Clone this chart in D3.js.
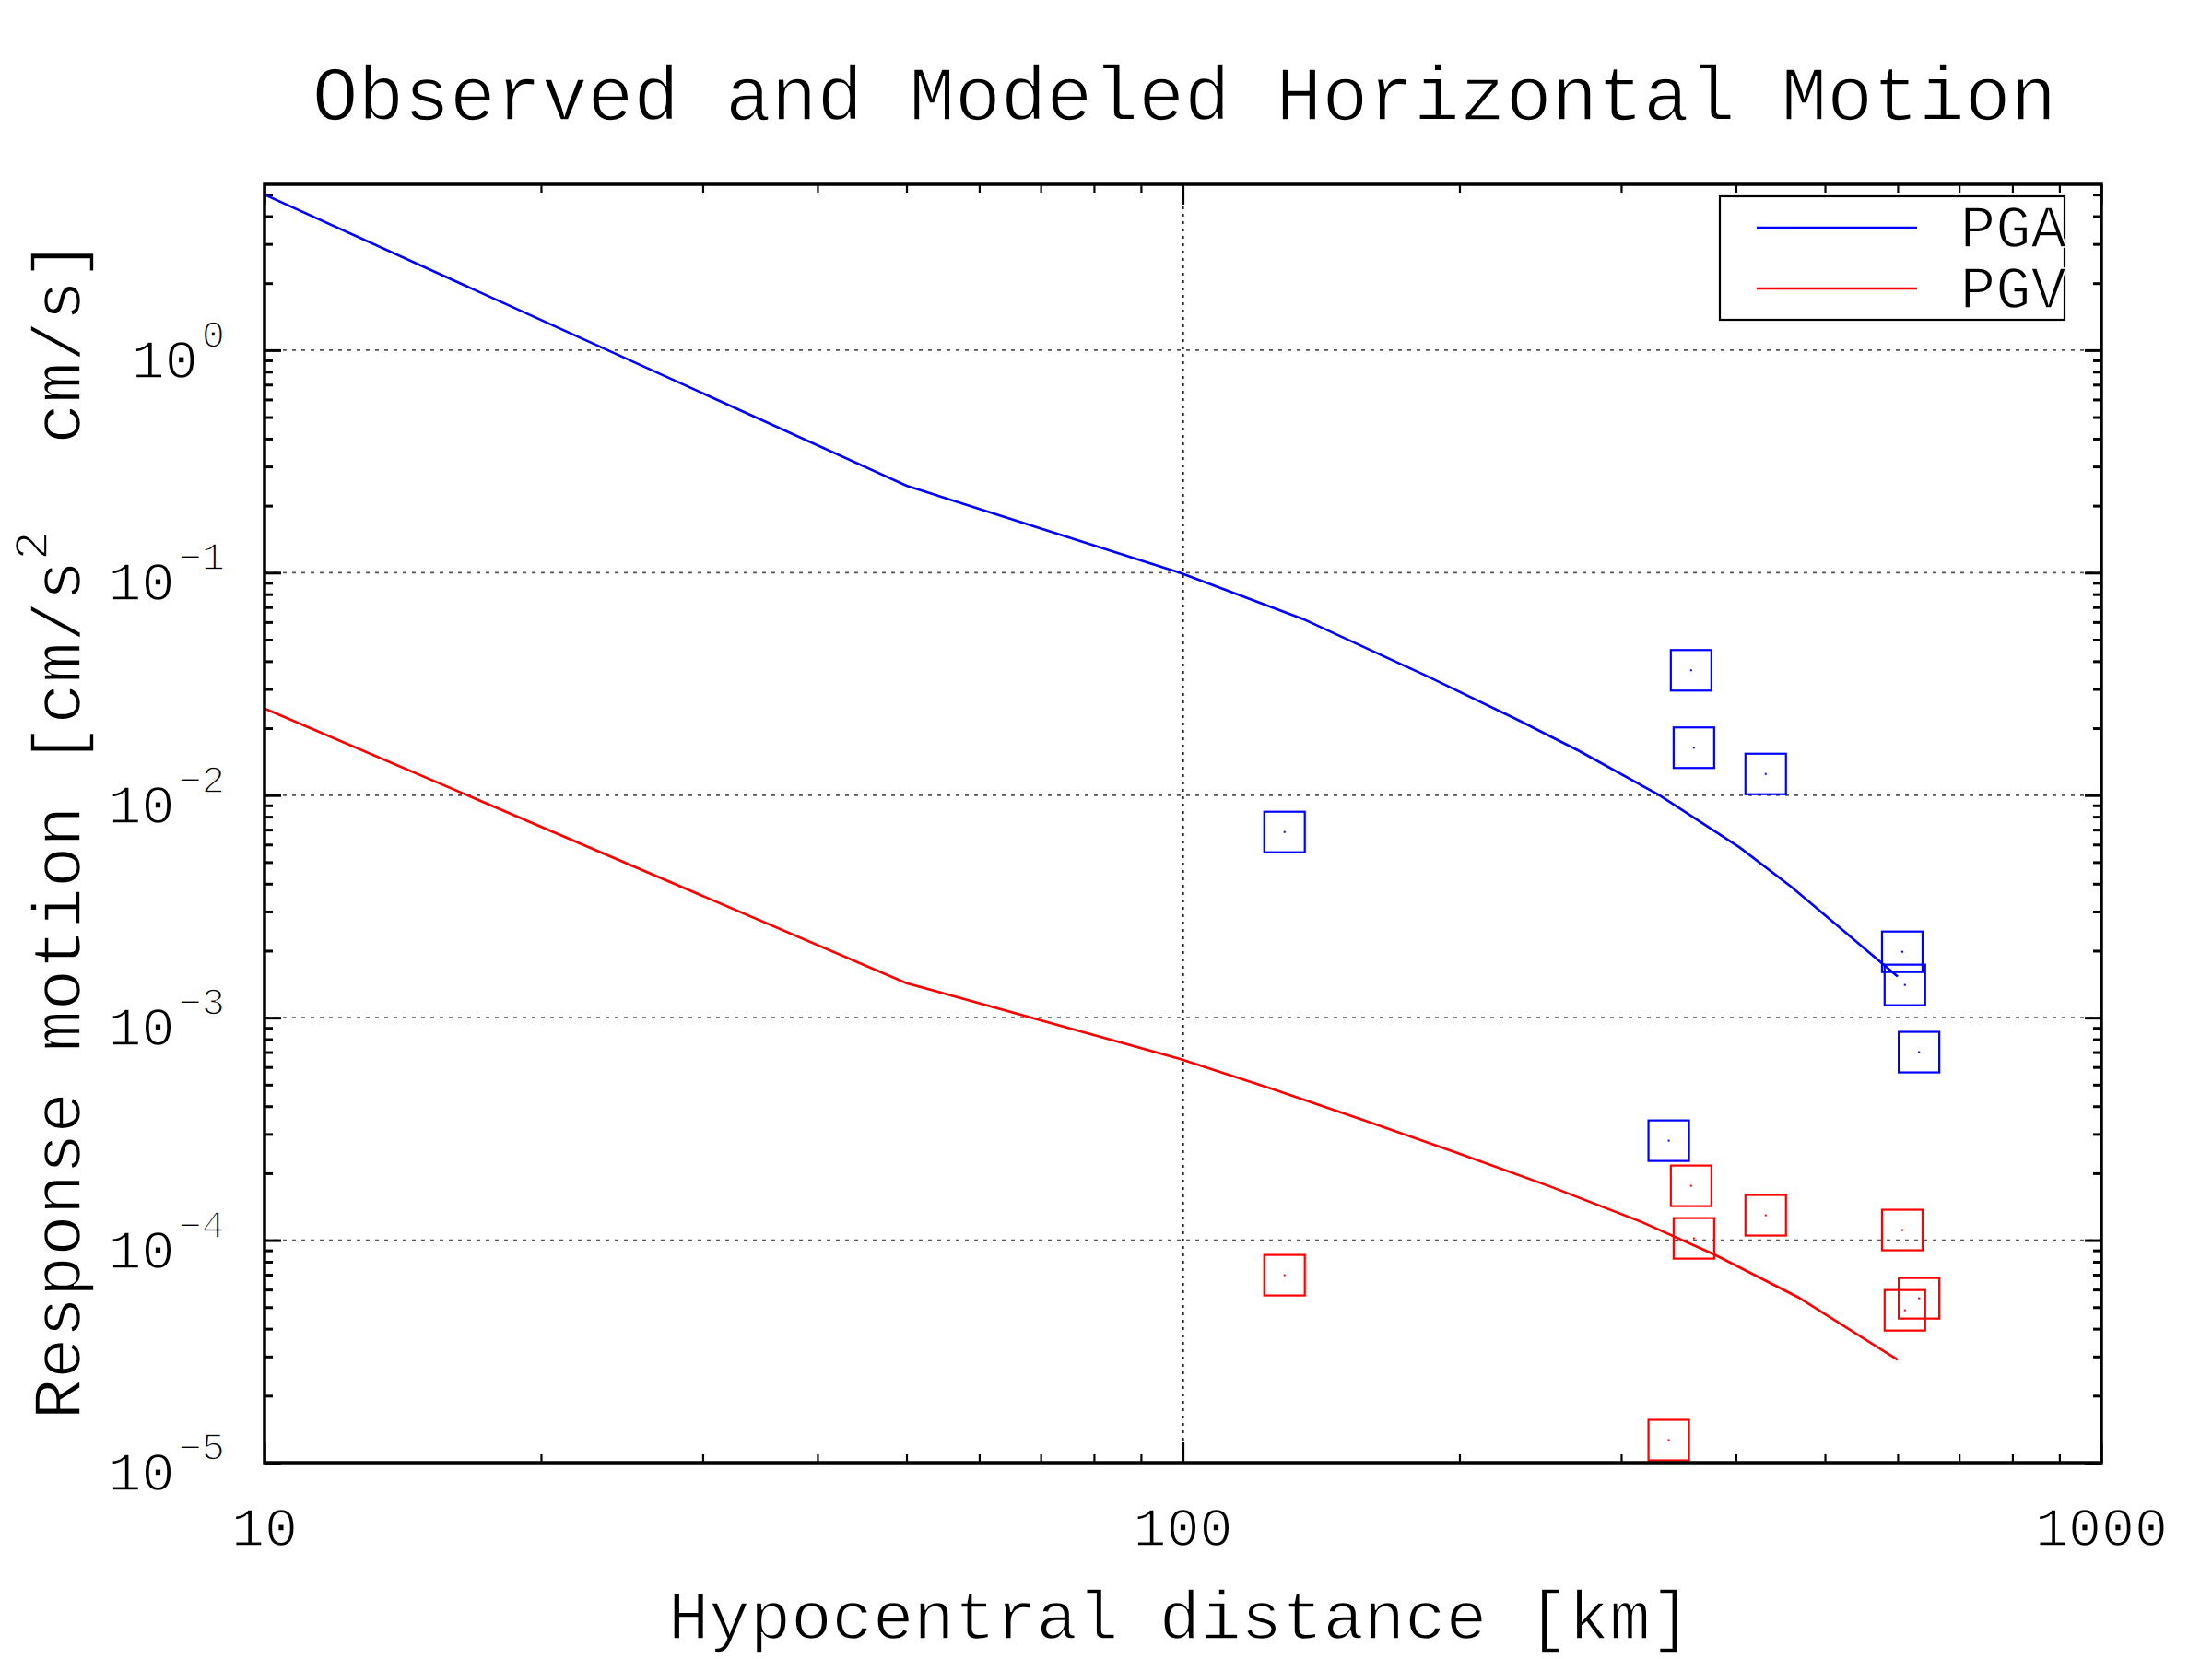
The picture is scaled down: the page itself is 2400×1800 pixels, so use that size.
<!DOCTYPE html>
<html>
<head>
<meta charset="utf-8">
<script src="https://cdn.jsdelivr.net/npm/d3@7"></script>
<style>
  body { margin: 0; background: #fff; }
  text { font-family: "Liberation Mono", "Courier New", monospace; fill: #000;
         stroke: #fff; stroke-width: 1.6px; paint-order: normal; }
</style>
</head>
<body>
<script>
// ---------- data ----------
const obsDistance = [129, 357.5, 360, 431, 607, 611, 633, 338];
const obsPGA = [6.83e-3, 0.0364, 0.01634, 0.01245, 1.977e-3, 1.403e-3, 7.0e-4, 2.80e-4];
const obsPGV = [6.96e-5, 1.755e-4, 1.019e-4, 1.294e-4, 1.111e-4, 4.84e-5, 5.48e-5, 1.263e-5];

const modelDistPGA = [10, 50, 99.3, 135, 184, 232, 270, 330, 404, 460, 528, 600];
const modelPGA = [5.0, 0.246, 0.0998, 0.0620, 0.0344, 0.0217, 0.0158, 0.0100, 0.00581, 0.00386, 0.00239, 0.00153];

const modelDistPGV = [10, 50, 99.3, 125.1, 157.7, 198.7, 250.4, 315.5, 379.6, 467.4, 600];
const modelPGV = [0.0245, 1.43e-3, 6.52e-4, 4.78e-4, 3.45e-4, 2.47e-4, 1.75e-4, 1.21e-4, 8.59e-5, 5.54e-5, 2.90e-5];

const xMajorTicks = [10, 100, 1000];
const xTickLabels = ["10", "100", "1000"];
const yTickExponents = [-5, -4, -3, -2, -1, 0];
const seriesNames = ["PGA", "PGV"];
const seriesColors = ["#0000ff", "#ff0000"];

const titleText = "Observed and Modeled Horizontal Motion";
const xLabelText = "Hypocentral distance [km]";

// ---------- layout ----------
const W = 2400, H = 1800;
const L = 287, R = 2280, T = 200, B = 1587;

const x = d3.scaleLog().domain([10, 1000]).range([L, R]);
const y = d3.scaleLog().domain([1e-5, 5.56]).range([B, T]);

const xMinor = [];
[10, 100].forEach(d => { for (let k = 2; k <= 9; k++) xMinor.push(d * k); });
const yMajor = yTickExponents.map(e => Math.pow(10, e));
const yMinor = [];
yMajor.forEach(d => { for (let k = 2; k <= 9; k++) { const v = d * k; if (v <= y.domain()[1]) yMinor.push(v); } });

const svg = d3.select("body").append("svg")
  .attr("width", W).attr("height", H)
  .attr("viewBox", `0 0 ${W} ${H}`);
svg.append("rect").attr("width", W).attr("height", H).attr("fill", "#fff");

// ---------- grid ----------
const grid = svg.append("g");
grid.selectAll("line.h").data(yMajor.filter(v => v > 1e-5)).join("line")
  .attr("x1", L).attr("x2", R)
  .attr("y1", d => y(d)).attr("y2", d => y(d))
  .attr("stroke", "#555").attr("stroke-width", 1.8).attr("stroke-dasharray", "4,6");
grid.selectAll("line.v").data([100]).join("line")
  .attr("x1", d => x(d)).attr("x2", d => x(d))
  .attr("y1", T).attr("y2", B)
  .attr("stroke", "#222").attr("stroke-width", 2.2).attr("stroke-dasharray", "3,5");

// ---------- axes (inward ticks on all four sides) ----------
function styleAxis(g, w) {
  g.select(".domain").remove();
  g.selectAll(".tick line").attr("stroke", "#000").attr("stroke-width", w);
  g.selectAll(".tick text").remove();
}
const axes = [
  [d3.axisBottom(x), `translate(0,${B})`, xMajorTicks, xMinor, 22, 9, 2.2],
  [d3.axisTop(x), `translate(0,${T})`, xMajorTicks, xMinor, 22, 9, 2.2],
  [d3.axisLeft(y), `translate(${L},0)`, yMajor, yMinor, 18, 9, 3],
  [d3.axisRight(y), `translate(${R},0)`, yMajor, yMinor, 18, 9, 3]
];
axes.forEach(([ax, tr, maj, min, lm, ln, sw]) => {
  svg.append("g").attr("transform", tr)
    .call(ax.tickValues(maj).tickSizeInner(-lm).tickSizeOuter(0).tickFormat(() => ""))
    .call(g => styleAxis(g, sw));
  svg.append("g").attr("transform", tr)
    .call(ax.tickValues(min).tickSizeInner(-ln).tickSizeOuter(0).tickFormat(() => ""))
    .call(g => styleAxis(g, sw));
});

// ---------- tick labels ----------
svg.append("g").selectAll("text").data(xMajorTicks).join("text")
  .attr("x", d => x(d)).attr("y", B + 90)
  .attr("text-anchor", "middle").attr("font-size", 60)
  .text((d, i) => xTickLabels[i]);

const yl = svg.append("g").selectAll("text").data(yTickExponents).join("text")
  .attr("x", 244).attr("y", d => y(Math.pow(10, d)) + 30)
  .attr("text-anchor", "end");
yl.append("tspan").attr("font-size", 60).text("10");
yl.append("tspan").attr("font-size", 42).attr("dx", 4).attr("dy", -33)
  .text(d => d < 0 ? "\u2212" + Math.abs(d) : String(d));

// ---------- model lines ----------
const line = d3.line().x(d => x(d[0])).y(d => y(d[1]));
const modelSets = [
  d3.zip(modelDistPGA, modelPGA),
  d3.zip(modelDistPGV, modelPGV)
];
svg.append("g").selectAll("path").data(modelSets).join("path")
  .attr("d", line).attr("fill", "none")
  .attr("stroke", (d, i) => seriesColors[i]).attr("stroke-width", 2.6);

// ---------- observed squares ----------
const obsSets = [d3.zip(obsDistance, obsPGA), d3.zip(obsDistance, obsPGV)];
obsSets.forEach((set, i) => {
  const g = svg.append("g");
  g.selectAll("rect.sq").data(set).join("rect")
    .attr("x", d => x(d[0]) - 22).attr("y", d => y(d[1]) - 22)
    .attr("width", 44).attr("height", 44)
    .attr("fill", "none").attr("stroke", seriesColors[i]).attr("stroke-width", 2.2);
  g.selectAll("rect.dot").data(set).join("rect")
    .attr("x", d => x(d[0]) - 1).attr("y", d => y(d[1]) - 1)
    .attr("width", 2).attr("height", 2).attr("fill", seriesColors[i]);
});

// ---------- frame ----------
svg.append("rect").attr("x", L).attr("y", T)
  .attr("width", R - L).attr("height", B - T)
  .attr("fill", "none").attr("stroke", "#000").attr("stroke-width", 3.5);

// ---------- legend ----------
const lg = svg.append("g");
lg.append("rect").attr("x", 1866).attr("y", 213).attr("width", 374).attr("height", 134)
  .attr("fill", "#fff").attr("stroke", "#000").attr("stroke-width", 2.2);
seriesNames.forEach((name, i) => {
  const ly = 247 + i * 66;
  lg.append("line").attr("x1", 1906).attr("x2", 2080).attr("y1", ly).attr("y2", ly)
    .attr("stroke", seriesColors[i]).attr("stroke-width", 2.4);
  lg.append("text").attr("x", 2242).attr("y", ly + 21)
    .attr("text-anchor", "end").attr("font-size", 64).text(name);
});

// ---------- titles ----------
svg.append("text").attr("x", 1285).attr("y", 130)
  .attr("text-anchor", "middle").attr("font-size", 83).text(titleText);
svg.append("text").attr("x", 1280).attr("y", 1778)
  .attr("text-anchor", "middle").attr("font-size", 74).text(xLabelText);

const ylab = svg.append("text")
  .attr("transform", "translate(87,900) rotate(-90)")
  .attr("text-anchor", "middle").attr("font-size", 74);
ylab.append("tspan").text("Response motion [cm/s");
ylab.append("tspan").attr("font-size", 52).attr("dy", -36).text("2");
ylab.append("tspan").attr("dx", 95).attr("dy", 36).text("cm/s]");
</script>
</body>
</html>
